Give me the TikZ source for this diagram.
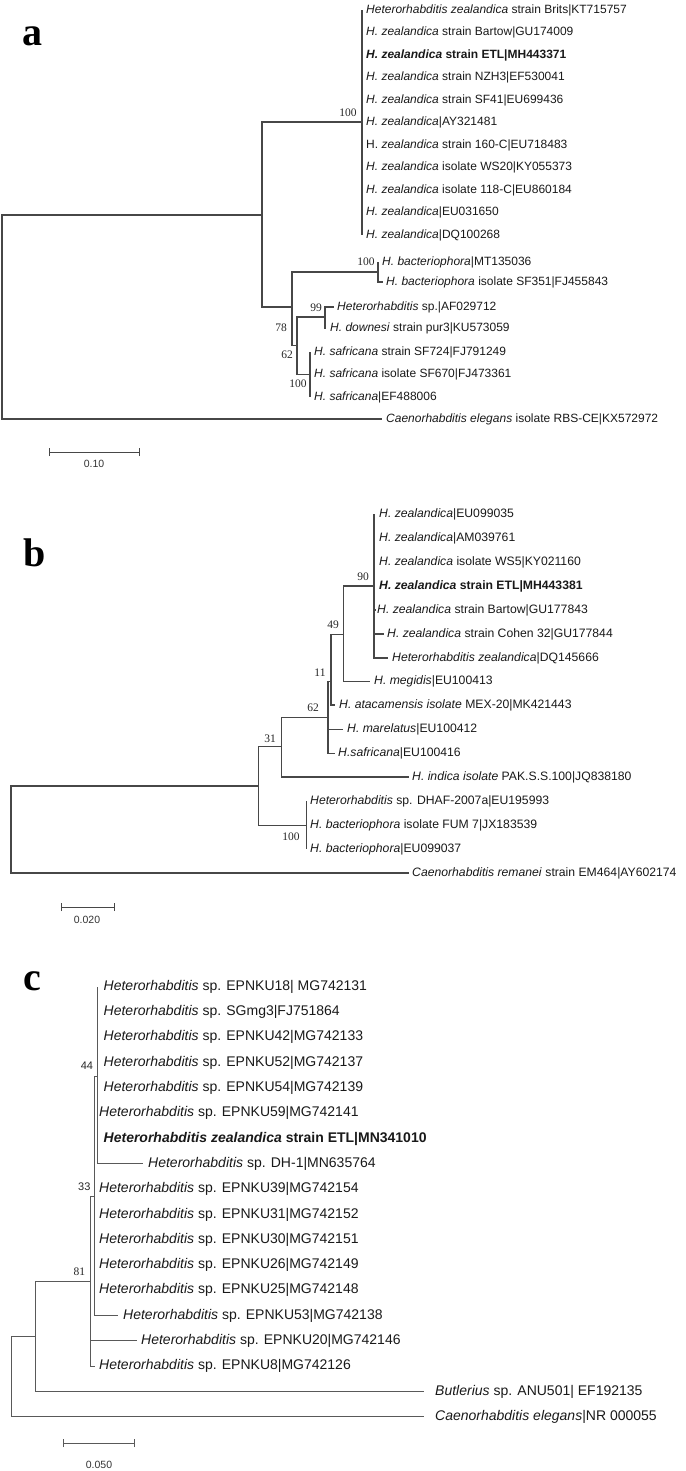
\documentclass[tikz,border=0pt]{standalone}
\usepackage{fontspec}
\setmainfont{Liberation Sans}
\newfontfamily\serifnum{Liberation Serif}
\begin{document}
\begin{tikzpicture}[x=1pt,y=-1pt,
  br/.style={draw=black!72, line width=1.2pt},
  brc/.style={draw=black!65, line width=1.0pt},
  laba/.style={anchor=west, inner sep=0pt, text=black!90, font=\fontsize{12}{14}\selectfont},
  labb/.style={anchor=west, inner sep=0pt, text=black!90, font=\fontsize{12.2}{14}\selectfont},
  labc/.style={anchor=west, inner sep=0pt, text=black!90, font=\fontsize{14}{16}\selectfont},
  bsn/.style={inner sep=0pt, text=black!85, font=\serifnum\fontsize{11.5}{12}\selectfont},
  bss/.style={inner sep=0pt, text=black!85, font=\fontsize{11}{12}\selectfont},
  scl/.style={inner sep=0pt, text=black!80, font=\fontsize{10.5}{12}\selectfont},
  panel/.style={inner sep=0pt, font=\serifnum\bfseries\fontsize{40}{40}\selectfont}]
\path[use as bounding box] (0,0) rectangle (685,1471);
\newcommand\leaf[6]{\coordinate (#1) at (#2,#3); \node[#5] (#1l) at (#4,#3) {#6};}

% ================= a =================
\node[panel] (pa) at (32,36) {a};
\coordinate (ar) at (2,317);
\coordinate (a1) at (262,215);
\coordinate (az) at (362,122);
\coordinate (a2) at (292,307);
\coordinate (ab) at (378,272);
\coordinate (a3) at (297,345.5);
\coordinate (ac) at (325,317);
\coordinate (ad) at (310,374.5);
\leaf{az1}{362}{10}{366}{laba}{\textit{Heterorhabditis zealandica} strain Brits|KT715757}
\leaf{az2}{362}{32.5}{366}{laba}{\textit{H. zealandica} strain Bartow|GU174009}
\leaf{az3}{362}{55}{366}{laba}{\textbf{\textit{H. zealandica} strain ETL|MH443371}}
\leaf{az4}{362}{77.5}{366}{laba}{\textit{H. zealandica} strain NZH3|EF530041}
\leaf{az5}{362}{100}{366}{laba}{\textit{H. zealandica} strain SF41|EU699436}
\leaf{az6}{362}{122.5}{366}{laba}{\textit{H. zealandica}|AY321481}
\leaf{az7}{362}{145}{366}{laba}{H. \textit{zealandica} strain 160-C|EU718483}
\leaf{az8}{362}{167.5}{366}{laba}{\textit{H. zealandica} isolate WS20|KY055373}
\leaf{az9}{362}{190}{366}{laba}{\textit{H. zealandica} isolate 118-C|EU860184}
\leaf{az10}{362}{212.5}{366}{laba}{\textit{H. zealandica}|EU031650}
\leaf{az11}{362}{235}{366}{laba}{\textit{H. zealandica}|DQ100268}
\leaf{ab1}{378}{262}{382}{laba}{\textit{H. bacteriophora}|MT135036}
\leaf{ab2}{383}{282}{386}{laba}{\textit{H. bacteriophora} isolate SF351|FJ455843}
\leaf{ac1}{334}{307}{337}{laba}{\textit{Heterorhabditis} sp.|AF029712}
\leaf{ac2}{326}{328}{330}{laba}{\textit{H. downesi} strain pur3|KU573059}
\leaf{ad1}{310}{352}{314}{laba}{\textit{H. safricana} strain SF724|FJ791249}
\leaf{ad2}{310}{374.5}{314}{laba}{\textit{H. safricana} isolate SF670|FJ473361}
\leaf{ad3}{310}{397}{314}{laba}{\textit{H. safricana}|EF488006}
\leaf{ace}{382}{419}{386}{laba}{\textit{Caenorhabditis elegans} isolate RBS-CE|KX572972}
\foreach \c in {a1,ace} \draw[br] (ar) |- (\c);
\foreach \c in {az,a2} \draw[br] (a1) |- (\c);
\foreach \c in {az1,az2,az3,az4,az5,az6,az7,az8,az9,az10,az11} \draw[br] (az) |- (\c);
\foreach \c in {ab,a3} \draw[br] (a2) |- (\c);
\foreach \c in {ab1,ab2} \draw[br] (ab) |- (\c);
\foreach \c in {ac,ad} \draw[br] (a3) |- (\c);
\foreach \c in {ac1,ac2} \draw[br] (ac) |- (\c);
\foreach \c in {ad1,ad2,ad3} \draw[br] (ad) |- (\c);
\node[bsn] (na100) at (348,113) {100};
\node[bsn] (nb100) at (366,262) {100};
\node[bsn] (n99) at (316,308) {99};
\node[bsn] (n78) at (281,328) {78};
\node[bsn] (n62) at (287,355) {62};
\node[bsn] (nd100) at (298,384) {100};
\coordinate (sa1) at (49,452);
\coordinate (sa2) at (139,452);
\draw[br,line width=1pt] (sa1) -- (sa2);
\draw[br,line width=1pt] ([yshift=-4pt]sa1) -- ([yshift=4pt]sa1);
\draw[br,line width=1pt] ([yshift=-4pt]sa2) -- ([yshift=4pt]sa2);
\node[scl] (sal) at (94,464) {0.10};

% ================= b =================
\node[panel] (pb) at (35,553) {b};
\coordinate (br0) at (11,829.5);
\coordinate (b1) at (258.3,786);
\coordinate (b31) at (281.7,746.7);
\coordinate (bbac) at (306.5,825.7);
\coordinate (b62) at (328,717.3);
\coordinate (b11) at (331,681.7);
\coordinate (b49) at (343.3,634.3);
\coordinate (b90) at (374,586);
\leaf{bz1}{374}{514}{379}{labb}{\textit{H. zealandica}|EU099035}
\leaf{bz2}{374}{538}{379}{labb}{\textit{H. zealandica}|AM039761}
\leaf{bz3}{374}{562}{379}{labb}{\textit{H. zealandica} isolate WS5|KY021160}
\leaf{bz4}{374}{586}{379}{labb}{\textbf{\textit{H. zealandica} strain ETL|MH443381}}
\leaf{bz5}{376}{610}{377}{labb}{\textit{H. zealandica} strain Bartow|GU177843}
\leaf{bz6}{384}{634}{387}{labb}{\textit{H. zealandica} strain Cohen 32|GU177844}
\leaf{bz7}{388}{658}{392}{labb}{\textit{Heterorhabditis zealandica}|DQ145666}
\leaf{bme}{370}{681.7}{374}{labb}{\textit{H. megidis}|EU100413}
\leaf{bat}{335}{705}{339}{labb}{\textit{H. atacamensis isolate} MEX-20|MK421443}
\leaf{bma}{343.3}{729.3}{347}{labb}{\textit{H. marelatus}|EU100412}
\leaf{bsa}{335}{753.3}{338}{labb}{\textit{H.safricana}|EU100416}
\leaf{bin}{408.7}{777}{412}{labb}{\textit{H. indica isolate} PAK.S.S.100|JQ838180}
\leaf{bb1}{306.5}{801}{310}{labb}{\textit{Heterorhabditis} sp. DHAF-2007a|EU195993}
\leaf{bb2}{306.5}{825.7}{310}{labb}{\textit{H. bacteriophora} isolate FUM 7|JX183539}
\leaf{bb3}{306.5}{849.3}{310}{labb}{\textit{H. bacteriophora}|EU099037}
\leaf{bcr}{408.7}{873}{412}{labb}{\textit{Caenorhabditis remanei} strain EM464|AY602174}
\foreach \c in {b1,bcr} \draw[br] (br0) |- (\c);
\foreach \c in {b31,bbac} \draw[br] (b1) |- (\c);
\foreach \c in {b62,bin} \draw[br] (b31) |- (\c);
\foreach \c in {b11,bma,bsa} \draw[br] (b62) |- (\c);
\foreach \c in {b49,bat} \draw[br] (b11) |- (\c);
\foreach \c in {b90,bme} \draw[br] (b49) |- (\c);
\foreach \c in {bz1,bz2,bz3,bz4,bz5,bz6,bz7} \draw[br] (b90) |- (\c);
\foreach \c in {bb1,bb2,bb3} \draw[br] (bbac) |- (\c);
\node[bsn] (m90) at (363,577) {90};
\node[bsn] (m49) at (333,625) {49};
\node[bsn] (m11) at (320,673) {11};
\node[bsn] (m62) at (313,708) {62};
\node[bsn] (m31) at (270,739) {31};
\node[bsn] (m100) at (291,837) {100};
\coordinate (sb1) at (61,907);
\coordinate (sb2) at (114,907);
\draw[br,line width=1pt] (sb1) -- (sb2);
\draw[br,line width=1pt] ([yshift=-4pt]sb1) -- ([yshift=4pt]sb1);
\draw[br,line width=1pt] ([yshift=-4pt]sb2) -- ([yshift=4pt]sb2);
\node[scl] (sbl) at (87,920) {0.020};

% ================= c =================
\node[panel] (pc) at (32,981) {c};
\coordinate (cr) at (11,1376);
\coordinate (c1) at (35.7,1336);
\coordinate (c81) at (90.7,1281);
\coordinate (c33) at (94.3,1196);
\coordinate (c44) at (97.3,1076);
\leaf{k0}{97.3}{986.7}{103.5}{labc}{\textit{Heterorhabditis} sp. EPNKU18| MG742131}
\leaf{k1}{97.3}{1012}{103.5}{labc}{\textit{Heterorhabditis} sp. SGmg3|FJ751864}
\leaf{k2}{97.3}{1037.3}{103.5}{labc}{\textit{Heterorhabditis} sp. EPNKU42|MG742133}
\leaf{k3}{97.3}{1062.6}{103.5}{labc}{\textit{Heterorhabditis} sp. EPNKU52|MG742137}
\leaf{k4}{97.3}{1087.9}{103.5}{labc}{\textit{Heterorhabditis} sp. EPNKU54|MG742139}
\leaf{k5}{97.3}{1113.2}{99}{labc}{\textit{Heterorhabditis} sp. EPNKU59|MG742141}
\leaf{k6}{97.3}{1138.5}{103.5}{labc}{\textbf{\textit{Heterorhabditis zealandica} strain ETL|MN341010}}
\leaf{k7}{143.3}{1163.8}{148}{labc}{\textit{Heterorhabditis} sp. DH-1|MN635764}
\leaf{k8}{94.3}{1189.1}{99}{labc}{\textit{Heterorhabditis} sp. EPNKU39|MG742154}
\leaf{k9}{94.3}{1214.4}{99}{labc}{\textit{Heterorhabditis} sp. EPNKU31|MG742152}
\leaf{k10}{94.3}{1239.7}{99}{labc}{\textit{Heterorhabditis} sp. EPNKU30|MG742151}
\leaf{k11}{94.3}{1265}{99}{labc}{\textit{Heterorhabditis} sp. EPNKU26|MG742149}
\leaf{k12}{94.3}{1290.3}{99}{labc}{\textit{Heterorhabditis} sp. EPNKU25|MG742148}
\leaf{k13}{118.3}{1315.6}{123}{labc}{\textit{Heterorhabditis} sp. EPNKU53|MG742138}
\leaf{k14}{136.7}{1340.9}{141}{labc}{\textit{Heterorhabditis} sp. EPNKU20|MG742146}
\leaf{k15}{95}{1366.2}{99}{labc}{\textit{Heterorhabditis} sp. EPNKU8|MG742126}
\leaf{k16}{424}{1391.5}{435}{labc}{\textit{Butlerius} sp. ANU501| EF192135}
\leaf{k17}{424}{1416.8}{435}{labc}{\textit{Caenorhabditis elegans}|NR 000055}
\foreach \c in {c1,k17} \draw[brc] (cr) |- (\c);
\foreach \c in {c81,k16} \draw[brc] (c1) |- (\c);
\foreach \c in {c33,k14,k15} \draw[brc] (c81) |- (\c);
\foreach \c in {c44,k8,k9,k10,k11,k12,k13} \draw[brc] (c33) |- (\c);
\foreach \c in {k0,k1,k2,k3,k4,k5,k6,k7} \draw[brc] (c44) |- (\c);
\node[bss] (q44) at (87,1066) {44};
\node[bss] (q33) at (84.3,1187) {33};
\node[bsn] (q81) at (79.3,1272) {81};
\coordinate (sc1) at (63,1443);
\coordinate (sc2) at (134,1443);
\draw[brc] (sc1) -- (sc2);
\draw[brc] ([yshift=-4pt]sc1) -- ([yshift=4pt]sc1);
\draw[brc] ([yshift=-4pt]sc2) -- ([yshift=4pt]sc2);
\node[scl] (scl) at (99,1465) {0.050};
\end{tikzpicture}
\end{document}
